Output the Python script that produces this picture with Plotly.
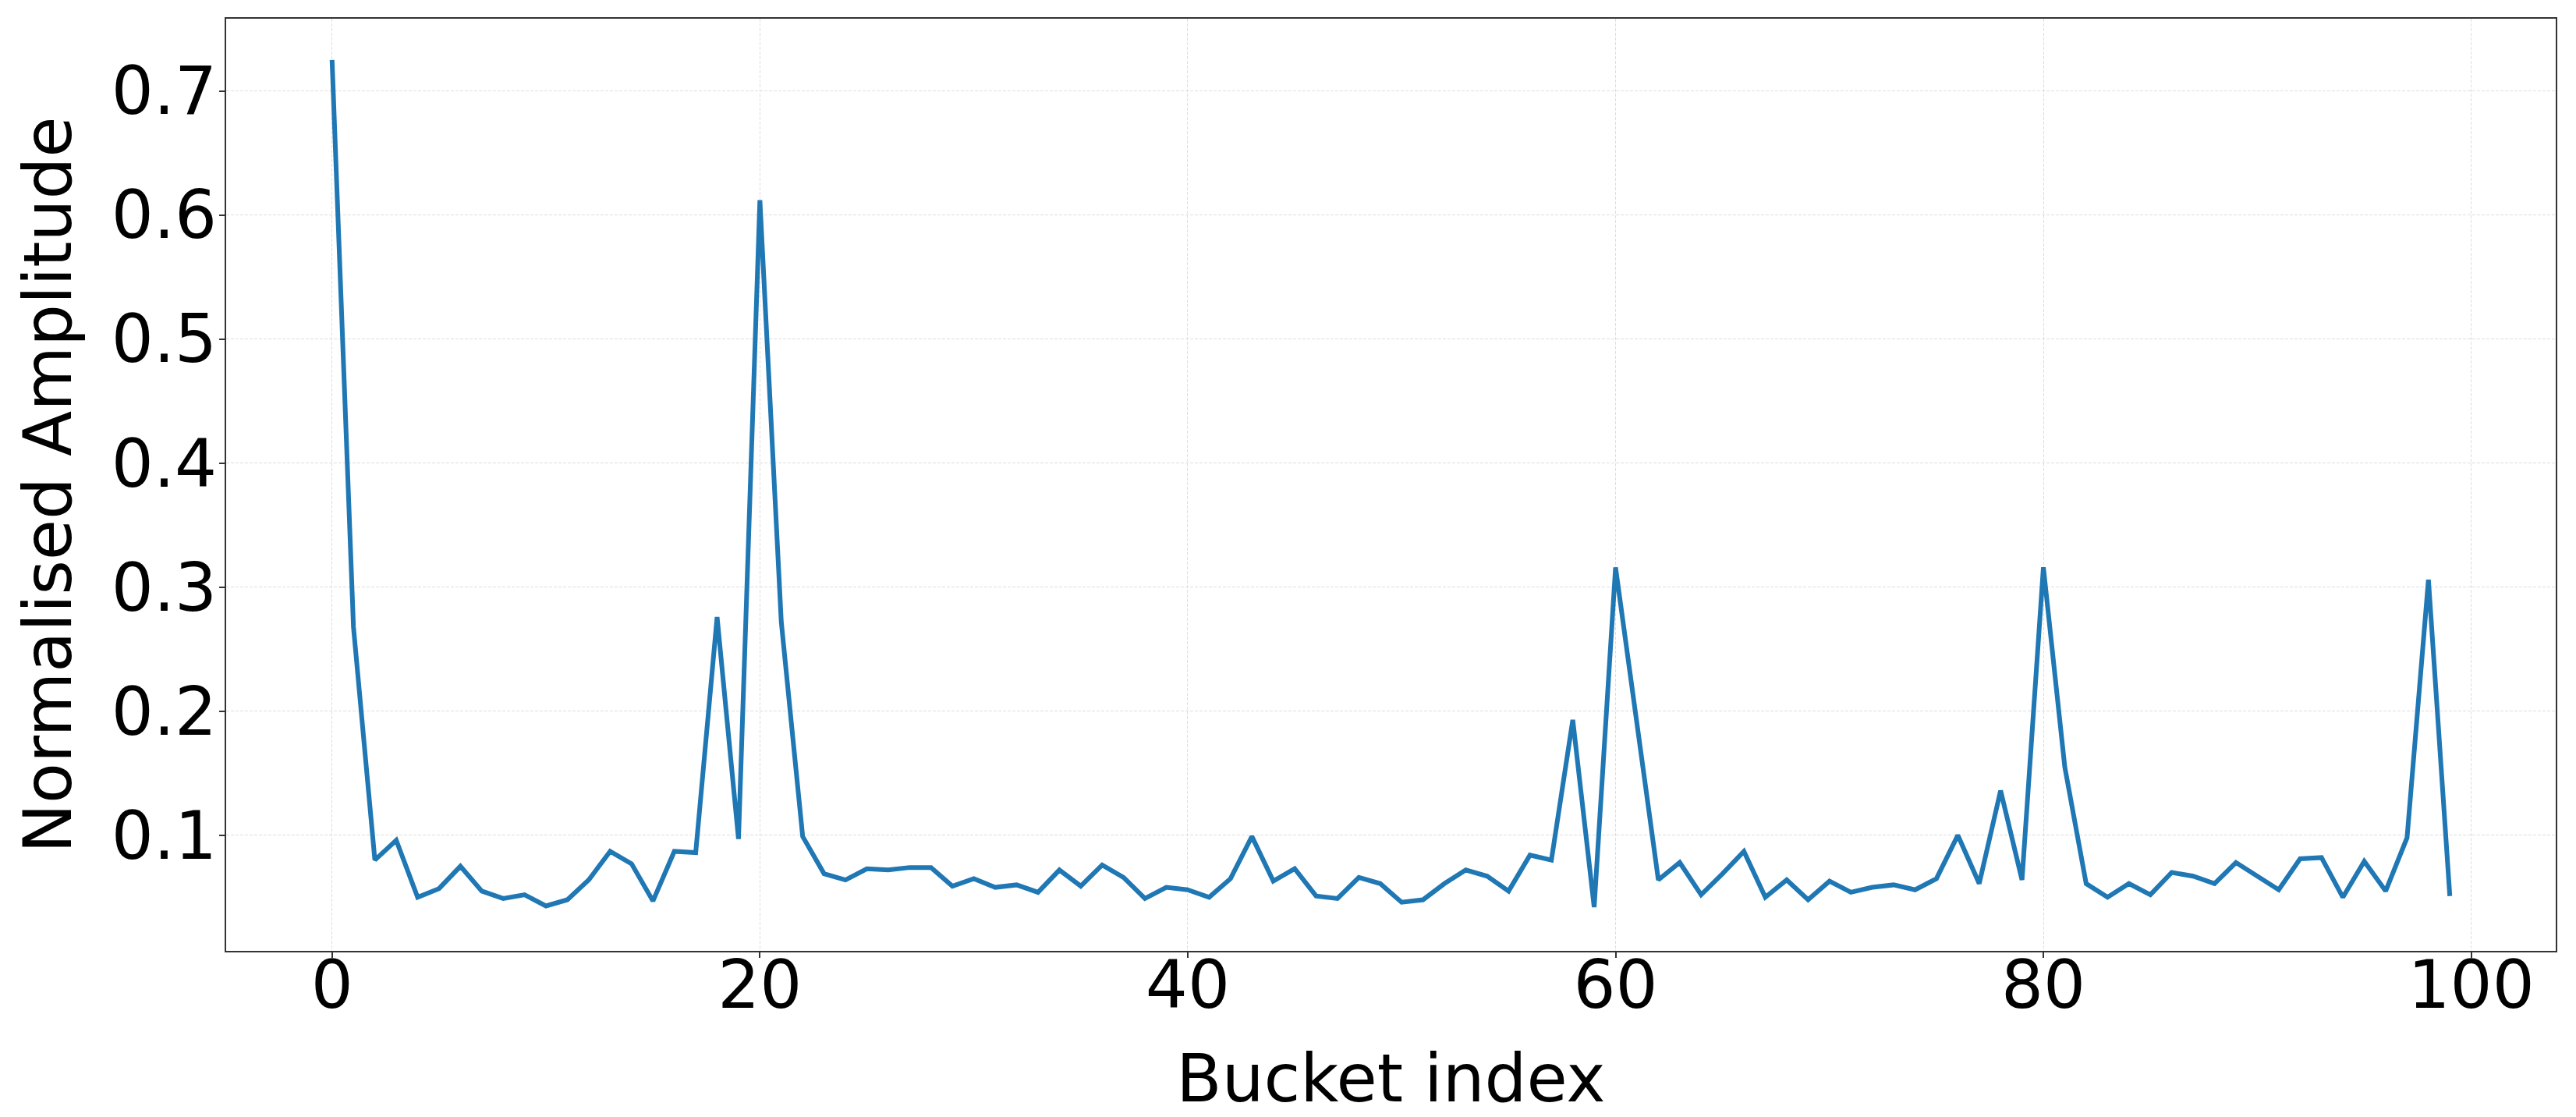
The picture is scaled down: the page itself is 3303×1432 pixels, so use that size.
import plotly.graph_objects as go

bucket_index = list(range(100))
amplitude = [
    0.725, 0.268, 0.080, 0.096, 0.050, 0.057, 0.075, 0.055, 0.049, 0.052,
    0.043, 0.048, 0.064, 0.087, 0.077, 0.047, 0.087, 0.086, 0.276, 0.097,
    0.612, 0.272, 0.099, 0.069, 0.064, 0.073, 0.072, 0.074, 0.074, 0.059,
    0.065, 0.058, 0.060, 0.054, 0.072, 0.059, 0.076, 0.066, 0.049, 0.058,
    0.056, 0.050, 0.065, 0.099, 0.063, 0.073, 0.051, 0.049, 0.066, 0.061,
    0.046, 0.048, 0.061, 0.072, 0.067, 0.055, 0.084, 0.080, 0.193, 0.042,
    0.316, 0.190, 0.064, 0.078, 0.052, 0.069, 0.087, 0.050, 0.064, 0.048,
    0.063, 0.054, 0.058, 0.060, 0.056, 0.065, 0.100, 0.061, 0.136, 0.064,
    0.316, 0.155, 0.061, 0.050, 0.061, 0.052, 0.070, 0.067, 0.061, 0.078,
    0.067, 0.056, 0.081, 0.082, 0.050, 0.079, 0.055, 0.098, 0.306, 0.051,
]
x_ticks = [0, 20, 40, 60, 80, 100]
y_ticks = [0.1, 0.2, 0.3, 0.4, 0.5, 0.6, 0.7]

font = dict(family="DejaVu Sans", size=85, color="black")

line = go.Scatter(x=bucket_index, y=amplitude, mode="lines",
                  line=dict(color="#1f77b4", width=6), showlegend=False)

fig = go.Figure(data=[line])
# page body has an 8px margin, so the figure is 8px smaller than the window
fig.update_layout(
    width=3295, height=1424,
    margin=dict(l=282, r=26, t=16, b=213, autoexpand=False),
    paper_bgcolor="white", plot_bgcolor="white",
    font=font,
)
axis_style = dict(
    showline=True, mirror=True, linecolor="#333", linewidth=2,
    ticks="outside", ticklen=7, tickwidth=2, tickcolor="#333",
    showgrid=True, gridcolor="#dedede", gridwidth=1.2, griddash="4px,2px",
    zeroline=False, tickfont=font,
)
fig.update_xaxes(range=[-4.95, 103.95], tickvals=x_ticks, ticklabelstandoff=-38,
                 title=dict(text="Bucket index", font=font, standoff=50),
                 **axis_style)
fig.update_yaxes(range=[0.0068, 0.7583], tickvals=y_ticks, ticktext=[str(v) for v in y_ticks],
                 ticklabelstandoff=-14,
                 title=dict(text="Normalised Amplitude", font=font, standoff=23),
                 **axis_style)

fig.write_html("out.html")
